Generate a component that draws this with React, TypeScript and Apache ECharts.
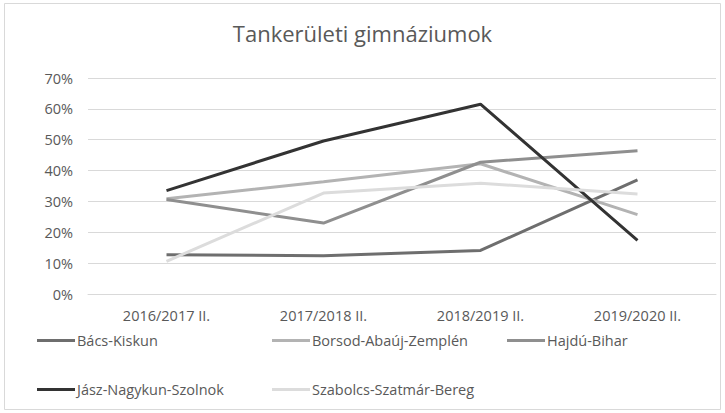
import React, { useEffect, useRef } from "react";
import * as echarts from "echarts";

const categories = ["2016/2017 II.", "2017/2018 II.", "2018/2019 II.", "2019/2020 II."];
const seriesNames = ["Bács-Kiskun", "Borsod-Abaúj-Zemplén", "Hajdú-Bihar", "Jász-Nagykun-Szolnok", "Szabolcs-Szatmár-Bereg"];
const bacsKiskun = [12.7, 12.4, 14.1, 37.0];
const borsod = [30.9, 36.4, 42.2, 25.7];
const hajduBihar = [30.6, 23.0, 42.7, 46.4];
const jasz = [33.5, 49.6, 61.5, 17.4];
const szabolcs = [10.6, 32.7, 35.9, 32.4];
const seriesValues = [bacsKiskun, borsod, hajduBihar, jasz, szabolcs];
const seriesColors = ["#6e6e6e", "#b3b3b3", "#8f8f8f", "#333333", "#dcdcdc"];
const legendPos = [
  { left: 37, top: 333 },
  { left: 272, top: 333 },
  { left: 507, top: 333 },
  { left: 37, top: 382 },
  { left: 272, top: 382 },
];

const FONT = "'Open Sans', sans-serif";
const TXT = "#595959";

export default function App() {
  const ref = useRef<HTMLDivElement>(null);
  useEffect(() => {
    if (!ref.current) return;
    const chart = echarts.init(ref.current, undefined, { renderer: "svg" });
    chart.setOption({
      animation: false,
      backgroundColor: "#ffffff",
      textStyle: { fontFamily: FONT },
      title: {
        text: "Tankerületi gimnáziumok",
        left: "center",
        top: 17,
        textStyle: { fontFamily: FONT, fontSize: 22, fontWeight: "normal", color: TXT },
      },
      graphic: [
        {
          type: "rect",
          shape: { x: 4.5, y: 3.5, width: 716, height: 406 },
          style: { fill: "none", stroke: "#d9d9d9", lineWidth: 1 },
          silent: true,
        },
      ],
      grid: { left: 88, right: 9, top: 78, bottom: 119, containLabel: false },
      xAxis: {
        type: "category",
        data: categories,
        boundaryGap: true,
        axisLine: { show: true, lineStyle: { color: "#d9d9d9", width: 1 } },
        axisTick: { show: false },
        axisLabel: { color: TXT, fontSize: 14.5, fontFamily: FONT, margin: 14 },
      },
      yAxis: {
        type: "value",
        min: 0,
        max: 70,
        interval: 10,
        axisLine: { show: false },
        axisTick: { show: false },
        splitLine: { lineStyle: { color: "#d9d9d9", width: 1 } },
        axisLabel: { color: TXT, fontSize: 14.5, fontFamily: FONT, margin: 15, formatter: "{value}%" },
      },
      legend: seriesNames.map((name, i) => ({
        data: [name],
        left: legendPos[i].left,
        top: legendPos[i].top,
        itemWidth: 38,
        itemHeight: 16,
        itemGap: 0,
        padding: 0,
        textStyle: { color: TXT, fontSize: 14.5, fontFamily: FONT, padding: [0, 0, 0, -3] },
        icon: "path://M0,6.5 L38,6.5 L38,9.5 L0,9.5 Z",
      })),
      series: seriesNames.map((name, i) => ({
        name,
        type: "line",
        data: seriesValues[i],
        symbol: "none",
        lineStyle: { color: seriesColors[i], width: 3 },
        itemStyle: { color: seriesColors[i] },
      })),
    });
    return () => chart.dispose();
  }, []);
  return (
    <div
      ref={ref}
      style={{ position: "absolute", left: 0, top: 0, width: 725, height: 413 }}
    />
  );
}
